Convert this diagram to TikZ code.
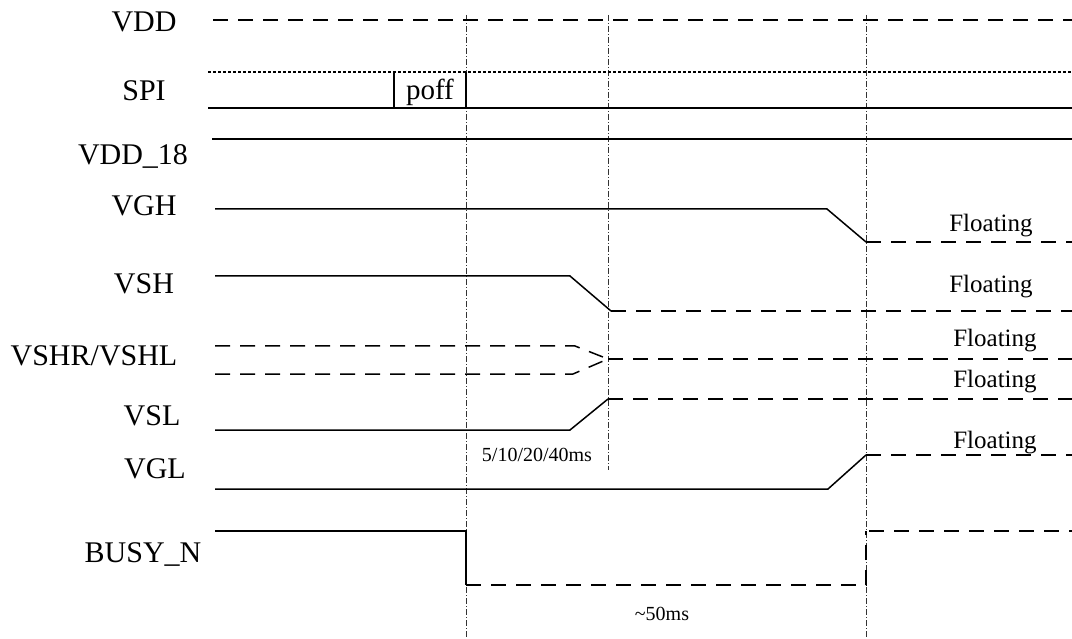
\documentclass[tikz,border=0pt]{standalone}
\usepackage{fontspec}
\setmainfont{Liberation Serif}
\begin{document}
\begin{tikzpicture}[x=1pt,y=-1pt,
  sig/.style={line width=1.5pt},
  fl/.style={line width=1.5pt, dash pattern=on 15pt off 10pt},
  fine/.style={line width=1.2pt, dash pattern=on 3pt off 2pt},
  marker/.style={line width=0.7pt, dash pattern=on 6pt off 2pt on 1pt off 2pt, black!80},
  lbl/.style={font=\fontsize{30}{36}\selectfont, anchor=base, inner sep=0pt},
  flt/.style={font=\fontsize{25}{30}\selectfont, anchor=base, inner sep=0pt},
  note/.style={font=\fontsize{20}{24}\selectfont, anchor=base, inner sep=0pt}]
\useasboundingbox (0,0) rectangle (1072,639);

% signal names
\node[lbl] (lVDD)  at (144,32)  {VDD};
\node[lbl] (lSPI)  at (144,101) {SPI};
\node[lbl] (lVDD18) at (133,165) {VDD\_18};
\node[lbl] (lVGH)  at (144,216) {VGH};
\node[lbl] (lVSH)  at (144,294) {VSH};
\node[lbl] (lVSHR) at (94,366)  {VSHR/VSHL};
\node[lbl] (lVSL)  at (152,425) {VSL};
\node[lbl] (lVGL)  at (155,478) {VGL};
\node[lbl] (lBUSY) at (143,562) {BUSY\_N};

% time markers
\draw[marker] (466,15) -- (466,639);
\draw[marker] (608,15) -- (608,470);
\draw[marker] (866,15) -- (866,639);

% VDD
\draw[fl] (213,20) -- (1072,20);
% SPI
\draw[fine] (208,72) -- (1072,72);
\draw[sig] (208,108) -- (1072,108);
\draw[sig] (394,108) -- (394,72);
\draw[sig] (466,72) -- (466,108);
\node[font=\fontsize{29}{34}\selectfont, anchor=base, inner sep=0pt] (poff) at (430,100) {poff};
% VDD_18
\draw[sig] (212,139) -- (1072,139);
% VGH
\draw[sig] (215,209) -- (827,209) -- (866,242);
\draw[fl] (866,242) -- (1072,242);
% VSH
\draw[sig] (215,276) -- (570,276) -- (611,311);
\draw[fl] (611,311) -- (1072,311);
% VSHR/VSHL
\draw[fl] (215,346) -- (575,346) -- (608,359);
\draw[fl] (215,374) -- (573,374) -- (608,359);
\draw[fl] (608,359) -- (1072,359);
% VSL
\draw[sig] (215,430) -- (570,430) -- (608,399);
\draw[fl] (608,399) -- (1072,399);
% VGL
\draw[sig] (215,489) -- (828,489) -- (866,455);
\draw[fl] (866,455) -- (1072,455);
% BUSY_N
\draw[sig] (215,531) -- (466,531) -- (466,585);
\draw[fl] (466,585) -- (866,585) -- (866,531);
\draw[fl] (869,531) -- (1072,531);

% Floating labels
\node[flt] (f1) at (991,232) {Floating};
\node[flt] (f2) at (991,293) {Floating};
\node[flt] (f3) at (995,346) {Floating};
\node[flt] (f4) at (995,388) {Floating};
\node[flt] (f5) at (995,448) {Floating};

% timing notes
\node[note] (t1) at (537,461) {5/10/20/40ms};
\node[note] (t2) at (662,620) {\textasciitilde50ms};
\end{tikzpicture}
\end{document}
